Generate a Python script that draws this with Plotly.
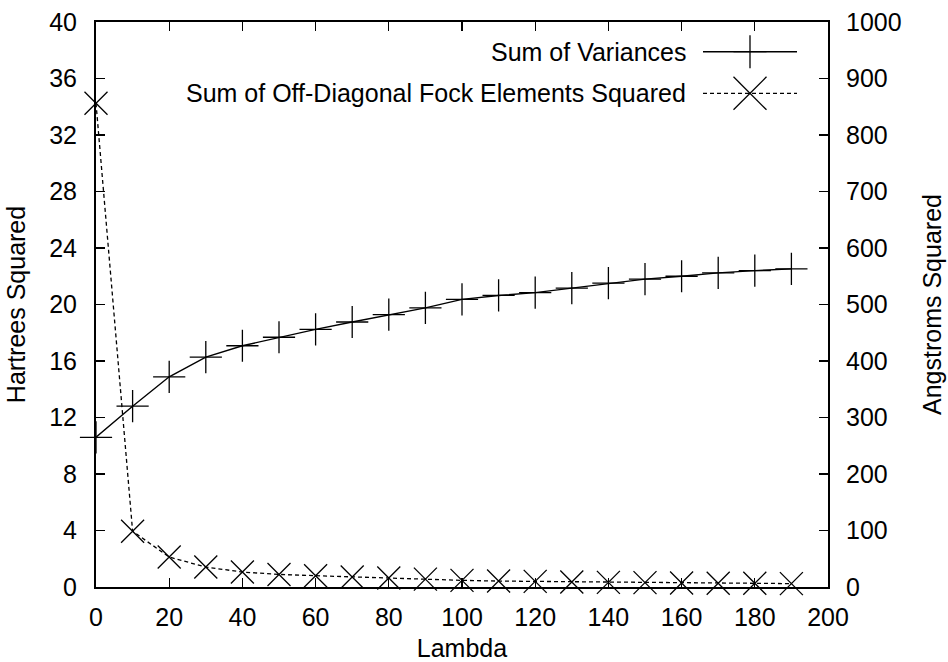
import plotly.graph_objects as go

lam = [0, 10, 20, 30, 40, 50, 60, 70, 80, 90, 100, 110, 120, 130, 140, 150, 160, 170, 180, 190]
variances = [265, 320, 372, 407, 427, 442, 456, 469, 482, 494, 509, 516, 521, 529, 538, 545, 550, 556, 560, 563]
fock = [34.25, 3.95, 2.12, 1.41, 1.06, 0.89, 0.80, 0.71, 0.64, 0.56, 0.47, 0.42, 0.40, 0.35, 0.33, 0.31, 0.28, 0.26, 0.26, 0.24]

x_ticks = list(range(0, 201, 20))
y_ticks = list(range(0, 41, 4))
y2_ticks = list(range(0, 1001, 100))

label_var = "Sum of Variances"
label_fock = "Sum of Off-Diagonal Fock Elements Squared"

FONT = "Liberation Sans, Arial, Helvetica, sans-serif"
W, H = 948, 662
L, R, T, B = 96, 120, 22, 75

fig = go.Figure()
fig.add_trace(go.Scatter(
    x=lam, y=variances, yaxis="y2", mode="lines+markers", name=label_var,
    line=dict(color="black", width=1.4),
    marker=dict(symbol="cross-thin", size=23, color="black", line=dict(color="black", width=1.3)),
    cliponaxis=False, showlegend=False))
fig.add_trace(go.Scatter(
    x=lam, y=fock, yaxis="y", mode="lines+markers", name=label_fock,
    line=dict(color="black", width=1.3, dash="4px,3px"),
    marker=dict(symbol="x-thin", size=23, color="black", line=dict(color="black", width=1.3)),
    cliponaxis=False, showlegend=False))

axis_common = dict(
    showgrid=False, zeroline=False, showline=True, linecolor="black", linewidth=2,
    ticks="inside", ticklen=9, tickwidth=1.2, tickcolor="black", automargin=False,
    tickfont=dict(family=FONT, size=25, color="black"),
)

fig.update_layout(
    width=W, height=H,
    margin=dict(l=L, r=R, t=T, b=B, autoexpand=False),
    paper_bgcolor="white", plot_bgcolor="white",
    font=dict(family=FONT, size=25, color="black"),
    xaxis=dict(range=[0, 200], tickvals=x_ticks, mirror="ticks",
               title=dict(text="Lambda", font=dict(family=FONT, size=25), standoff=13),
               ticklabelstandoff=7, **axis_common),
    yaxis=dict(range=[0, 40], tickvals=y_ticks, mirror=False,
               title=dict(text="Hartrees Squared", font=dict(family=FONT, size=25), standoff=16),
               ticklabelstandoff=12, **axis_common),
    yaxis2=dict(range=[0, 1000], tickvals=y2_ticks, overlaying="y", side="right",
                title=dict(text="Angstroms Squared", font=dict(family=FONT, size=25), standoff=23),
                ticklabelstandoff=11, **axis_common),
)

# gnuplot-style key (text on the left, sample on the right)
pw = W - L - R
ph = H - T - B
def px_x(px):
    return (px - L) / pw
def px_y(py):
    return (H - B - py) / ph

rows = [(label_var, 51.7, "solid", "plus"), (label_fock, 93.3, "dash", "x")]
for text, py, dash, sym in rows:
    fig.add_annotation(xref="paper", yref="paper", x=px_x(688), y=px_y(py),
                       text=text, showarrow=False, xanchor="right", yanchor="middle",
                       font=dict(family=FONT, size=25, color="black"))
    fig.add_shape(type="line", xref="paper", yref="paper",
                  x0=px_x(703), x1=px_x(797), y0=px_y(py), y1=px_y(py),
                  line=dict(color="black", width=1.4 if dash == "solid" else 1.3,
                            dash="solid" if dash == "solid" else "4px,3px"))
    cx, cy = px_x(750), px_y(py)
    r = 16.5
    if sym == "plus":
        segs = [(-r, 0, r, 0), (0, -r, 0, r)]
    else:
        segs = [(-r, -r, r, r), (-r, r, r, -r)]
    for x0, y0, x1, y1 in segs:
        fig.add_shape(type="line", xref="paper", yref="paper",
                      xsizemode="pixel", ysizemode="pixel", xanchor=cx, yanchor=cy,
                      x0=x0, x1=x1, y0=y0, y1=y1,
                      line=dict(color="black", width=1.3))

fig.write_html("out.html", config={"displayModeBar": False, "staticPlot": True},
               post_script="document.body.style.margin='0';document.body.style.overflow='hidden';")
